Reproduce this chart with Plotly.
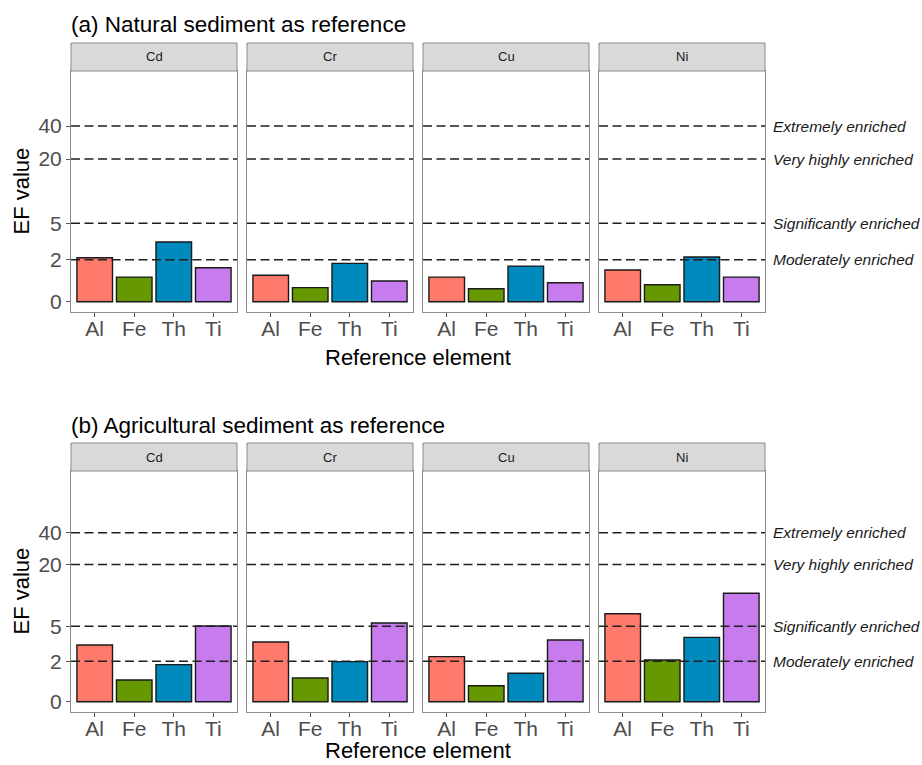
import numpy as np
import plotly.graph_objects as go

# Reference elements used for normalisation, and the metals faceted across columns
elements = ["Al", "Fe", "Th", "Ti"]
metals = ["Cd", "Cr", "Cu", "Ni"]

# Enrichment factors, natural sediment as reference
ef_natural_cd = [2.12, 1.08, 3.22, 1.55]
ef_natural_cr = [1.17, 0.60, 1.79, 0.90]
ef_natural_cu = [1.08, 0.55, 1.64, 0.82]
ef_natural_ni = [1.43, 0.73, 2.17, 1.08]

# Enrichment factors, agricultural sediment as reference
ef_agri_cd = [3.16, 0.98, 1.80, 5.03]
ef_agri_cr = [3.41, 1.08, 1.98, 5.39]
ef_agri_cu = [2.30, 0.71, 1.32, 3.59]
ef_agri_ni = [6.68, 2.08, 3.83, 10.57]

# Enrichment class thresholds
class_values = [2, 5, 20, 40]
class_labels = ["Moderately enriched", "Significantly enriched",
                "Very highly enriched", "Extremely enriched"]
y_ticks = [0, 2, 5, 20, 40]

element_colors = ["#FF7A6A", "#669900", "#0089BC", "#C77CEE"]

row_titles = ["(a) Natural sediment as reference",
              "(b) Agricultural sediment as reference"]
row_data = [[ef_natural_cd, ef_natural_cr, ef_natural_cu, ef_natural_ni],
            [ef_agri_cd, ef_agri_cr, ef_agri_cu, ef_agri_ni]]


def pseudo_log(v):
    """Pseudo-log transform (sigma = 1): asinh(x / 2)."""
    return np.arcsinh(np.asarray(v, dtype=float) / 2.0)


W, H = 922, 765
FONT = "Liberation Sans, Arial, sans-serif"


def px_x(p):
    return p / W


def px_y(p):
    return 1 - p / H


# Panel geometry in pixels
col_left = [71 + 176 * c for c in range(4)]
panel_w = 166
row_top = [71, 471]
row_bottom = [312, 712]
strip_h = 28
y_ranges = [[-0.216, 4.847], [-0.225, 5.037]]

fig = go.Figure()
layout = dict(
    width=W, height=H,
    margin=dict(l=0, r=0, t=0, b=0),
    paper_bgcolor="white", plot_bgcolor="white",
    showlegend=False,
    font=dict(family=FONT),
    bargap=0.1,
)
shapes = []
annotations = []

for r in range(2):
    for c in range(4):
        n = r * 4 + c + 1
        xa = "x" if n == 1 else f"x{n}"
        ya = "y" if n == 1 else f"y{n}"
        values = row_data[r][c]
        fig.add_trace(go.Bar(
            x=elements, y=pseudo_log(values),
            customdata=values,
            hovertemplate="%{x}: %{customdata}<extra></extra>",
            marker=dict(color=element_colors,
                        line=dict(color="#1A1A1A", width=1.4)),
            width=0.9,
            xaxis=xa, yaxis=ya,
        ))
        left = col_left[c]
        right = left + panel_w
        layout[f"xaxis{'' if n == 1 else n}"] = dict(
            domain=[px_x(left), px_x(right)],
            anchor=ya,
            type="category",
            categoryorder="array", categoryarray=elements,
            range=[-0.6, 3.6],
            showline=True, mirror=True, linecolor="#8C8C8C", linewidth=1,
            ticks="outside", ticklen=4, tickcolor="#555555", tickwidth=1,
            ticklabelstandoff=-6,
            tickfont=dict(size=21, color="#4D4D4D", family=FONT),
            showgrid=False, zeroline=False, fixedrange=True,
        )
        ydict = dict(
            domain=[px_y(row_bottom[r]), px_y(row_top[r])],
            anchor=xa,
            range=y_ranges[r],
            showline=True, mirror=True, linecolor="#8C8C8C", linewidth=1,
            showgrid=False, zeroline=False, fixedrange=True,
            tickvals=list(pseudo_log(y_ticks)),
            ticktext=[str(v) for v in y_ticks],
        )
        if c == 0:
            ydict.update(ticks="outside", ticklen=4, tickcolor="#555555",
                         tickwidth=1, showticklabels=True,
                         tickfont=dict(size=21, color="#4D4D4D", family=FONT))
        else:
            ydict.update(ticks="", showticklabels=False)
        layout[f"yaxis{'' if n == 1 else n}"] = ydict

        # enrichment class thresholds
        for v in class_values:
            shapes.append(dict(
                type="line", xref=f"{xa} domain", yref=ya,
                x0=0, x1=1, y0=float(pseudo_log(v)), y1=float(pseudo_log(v)),
                line=dict(color="#1F1F1F", width=1.5, dash="9px,4.5px"),
                layer="above",
            ))

        # facet strip
        st_top = row_top[r] - strip_h
        shapes.append(dict(
            type="rect", xref="paper", yref="paper",
            x0=px_x(left), x1=px_x(right),
            y0=px_y(row_top[r]), y1=px_y(st_top),
            fillcolor="#D9D9D9", line=dict(color="#8C8C8C", width=1),
            layer="above",
        ))
        annotations.append(dict(
            text=metals[c], xref="paper", yref="paper",
            x=px_x(left + panel_w / 2), y=px_y(st_top + strip_h / 2),
            xanchor="center", yanchor="middle", showarrow=False,
            font=dict(size=13, color="#1A1A1A", family=FONT),
        ))

    # class labels to the right of the last facet
    ya_last = f"y{r * 4 + 4}"
    for v, lab in zip(class_values, class_labels):
        annotations.append(dict(
            text=f"<i>{lab}</i>", xref="paper", yref=ya_last,
            x=px_x(771), y=float(pseudo_log(v)),
            xanchor="left", yanchor="middle", showarrow=False,
            font=dict(size=15.5, color="#1A1A1A", family=FONT),
        ))

    # row title
    annotations.append(dict(
        text=row_titles[r], xref="paper", yref="paper",
        x=px_x(69), y=px_y(25 + 400 * r),
        xanchor="left", yanchor="middle", showarrow=False,
        font=dict(size=22.5, color="#000000", family=FONT),
    ))
    # y-axis title
    annotations.append(dict(
        text="EF value", xref="paper", yref="paper",
        x=px_x(21), y=px_y((row_top[r] + row_bottom[r]) / 2),
        xanchor="center", yanchor="middle", showarrow=False, textangle=-90,
        font=dict(size=22, color="#000000", family=FONT),
    ))
    # x-axis title
    annotations.append(dict(
        text="Reference element", xref="paper", yref="paper",
        x=px_x(418), y=px_y(357 + 393 * r),
        xanchor="center", yanchor="middle", showarrow=False,
        font=dict(size=22, color="#000000", family=FONT),
    ))

layout["shapes"] = shapes
layout["annotations"] = annotations
fig.update_layout(**layout)
fig.write_html("out.html")
